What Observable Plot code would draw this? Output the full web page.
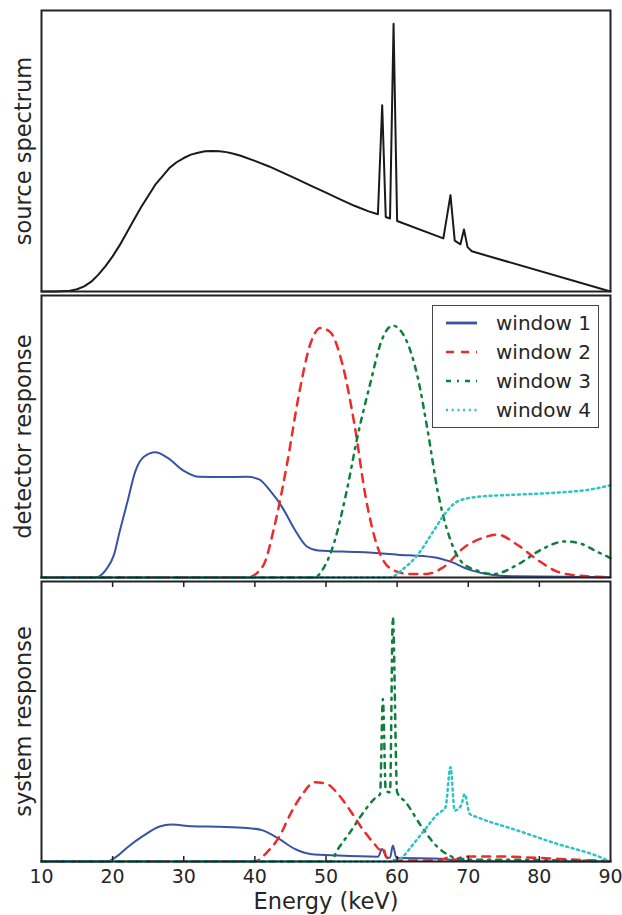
<!DOCTYPE html>
<html>
<head>
<meta charset="utf-8">
<script src="https://cdn.jsdelivr.net/npm/d3@7"></script>
<script src="https://cdn.jsdelivr.net/npm/@observablehq/plot@0.6"></script>
<style>
  html, body { margin: 0; padding: 0; background: #fff; }
  #chart { position: relative; width: 622px; height: 915px; font-family: "DejaVu Sans", sans-serif; color: #262626; }
  #chart svg { display: block; }
  #legend { position: absolute; left: 432px; top: 305px; width: 167px; height: 123px; box-sizing: border-box;
            border: 1.6px solid #444; background: #fff; }
  .lrow { position: absolute; left: 0; height: 20px; width: 100%; }
  .lrow svg { position: absolute; left: 12px; top: 0; }
  .lrow span { position: absolute; left: 63px; top: -2px; font-size: 20px; line-height: 24px; color: #262626; white-space: nowrap; }
</style>
</head>
<body>
<div id="chart"></div>
<script>
// ---------- data (arbitrary units 0..1) ----------
const xTicks = [10, 20, 30, 40, 50, 60, 70, 80, 90];
const xInnerTicks = [20, 30, 40, 50, 60, 70, 80];
const panelLabels = ["source spectrum", "detector response", "system response"];
const xLabel = "Energy (keV)";

const seriesNames = ["window 1", "window 2", "window 3", "window 4"];
const seriesColors = ["#3953a4", "#ee2a2a", "#0f7f3c", "#2cc4c4"];
const seriesDash = [null, "8,7", "5,6,2,6", "2,3.7"];

// source spectrum
const srcE = [10,12,14,15,16,17,18,19,20,21,22,23,24,25,26,27,28,29,30,31,32,33,34,35,36,37,38,40,42,44,46,48,50,52,54,56,57.3,57.9,58.4,59.0,59.5,60.0,66.5,67.5,68.1,68.9,69.4,69.9,70.5,90];
const srcV = [0,0,0.003,0.008,0.018,0.035,0.06,0.09,0.125,0.165,0.21,0.255,0.3,0.34,0.38,0.41,0.44,0.46,0.475,0.487,0.494,0.499,0.5,0.499,0.496,0.49,0.483,0.465,0.445,0.422,0.399,0.375,0.352,0.328,0.305,0.285,0.275,0.663,0.265,0.26,0.953,0.251,0.189,0.343,0.181,0.168,0.221,0.158,0.143,0];

// detector response
const det1E = [10,17.6,19.05,20.2,21.0,22.1,23.2,24.4,26.0,27.7,29.9,32.2,35.5,38.9,40.6,42.2,43.9,45.6,47.3,48.9,54.5,60.1,65.1,67.4,70.2,73.5,76.9,90];
const det1V = [0,0,0.027,0.081,0.164,0.27,0.377,0.428,0.444,0.425,0.38,0.357,0.356,0.357,0.348,0.306,0.247,0.17,0.11,0.096,0.09,0.081,0.072,0.057,0.027,0.009,0.004,0.001];
const det2E = [10,38.9,41.1,42.8,44.5,46.2,47.8,49.2,50.6,52.3,54.0,55.6,57.3,59.0,61.8,64.0,66.3,69.6,72,74.1,76.9,79.7,82.5,85.3,90];
const det2V = [0,0,0.039,0.187,0.40,0.65,0.828,0.885,0.87,0.757,0.543,0.282,0.104,0.033,0.012,0.012,0.033,0.11,0.14,0.152,0.116,0.063,0.021,0.007,0.001];
const det3E = [10,48.4,49.5,51.2,52.9,54.5,56.2,57.9,59.4,61.2,62.9,64.3,65.7,67.4,69.0,71.3,73.5,76.9,80.2,83.6,85.8,88.0,90];
const det3V = [0,0,0.027,0.128,0.306,0.508,0.686,0.846,0.893,0.846,0.709,0.52,0.306,0.14,0.057,0.024,0.012,0.045,0.098,0.128,0.12,0.093,0.069];
const det4E = [10,59.0,60.7,62.9,65.1,66.8,68.5,71.3,76.9,82.5,86.9,90];
const det4V = [0,0,0.027,0.081,0.164,0.229,0.27,0.286,0.294,0.301,0.311,0.327];

// system response
const sys1E = [10,19.3,20.4,22.1,24.4,26.6,28.3,31.1,35.0,38.9,41.1,43.4,45.6,47.8,51.7,57.3,57.9,58.5,59.0,59.4,59.9,66.3,67.4,71.3,90];
const sys1V = [0,0,0.015,0.051,0.093,0.125,0.132,0.126,0.124,0.12,0.111,0.081,0.045,0.027,0.021,0.017,0.045,0.015,0.013,0.057,0.013,0.01,0.006,0.001,0];
const sys2E = [10,40.0,41.7,43.4,45.0,46.7,48.4,50.1,51.7,53.4,55.1,56.8,57.6,58.0,58.5,59.3,60.1,65.7,67.4,68.2,69.3,74.1,79.7,85.3,90];
const sys2V = [0,0,0.033,0.087,0.17,0.241,0.283,0.277,0.241,0.182,0.117,0.063,0.042,0.051,0.015,0.006,0.004,0.004,0.015,0.006,0.018,0.018,0.013,0.006,0.001];
const sys3E = [10,50.6,51.7,53.4,55.1,56.8,57.6,58.0,58.4,59.0,59.4,60.0,61.2,63.5,65.7,67.4,68.2,71.3,76.9,82.5,90];
const sys3V = [0,0,0.045,0.105,0.17,0.224,0.241,0.58,0.253,0.247,0.872,0.247,0.212,0.122,0.051,0.021,0.012,0.006,0.006,0.004,0.001];
const sys4E = [10,59.3,60.7,62.3,64.0,65.7,66.8,67.5,68.1,69.0,69.5,70.2,71.3,76.9,82.5,88.0,90];
const sys4V = [0,0,0.015,0.063,0.117,0.17,0.194,0.337,0.182,0.2,0.241,0.17,0.158,0.111,0.063,0.021,0];

// ---------- build ----------
const zip = (E, V, s) => E.map((e, i) => ({E: e, v: V[i], s}));
const detData = [zip(det1E, det1V, 0), zip(det2E, det2V, 1), zip(det3E, det3V, 2), zip(det4E, det4V, 3)];
const sysData = [zip(sys1E, sys1V, 0), zip(sys2E, sys2V, 1), zip(sys3E, sys3V, 2), zip(sys4E, sys4V, 3)];
const srcData = zip(srcE, srcV, -1);

const W = 622, ML = 41, MR = 12;
const FONT = "DejaVu Sans, sans-serif";
const frameColor = "#222";

function seriesLines(sets, curve) {
  return sets.map((d, i) => Plot.line(d, {
    x: "E", y: "v", stroke: seriesColors[i], strokeWidth: i === 0 ? 2 : 2.5,
    strokeDasharray: seriesDash[i] || undefined, curve
  }));
}

function yLabelMark(label) {
  return Plot.text([label], {frameAnchor: "left", text: d => d, rotate: -90, dx: -18,
    fontSize: 22.5, fill: "#262626", textAnchor: "middle"});
}

function base(height, mt, mb, marks) {
  return Plot.plot({
    width: W, height, marginLeft: ML, marginRight: MR, marginTop: mt, marginBottom: mb,
    style: {fontFamily: FONT, background: "transparent", overflow: "visible", color: "#262626"},
    x: {domain: [10, 90], axis: null},
    y: {domain: [0, 1], axis: null},
    marks
  });
}

const chart = document.getElementById("chart");

// top: source spectrum
chart.appendChild(base(293, 10, 2, [
  Plot.line(srcData, {x: "E", y: "v", stroke: "#1a1a1a", strokeWidth: 2}),
  yLabelMark(panelLabels[0]),
  Plot.frame({stroke: frameColor, strokeWidth: 2})
]));

// middle: detector response
chart.appendChild(base(286, 2, 2, [
  ...seriesLines(detData, "monotone-x"),
  yLabelMark(panelLabels[1]),
  Plot.frame({stroke: frameColor, strokeWidth: 2})
]));

// bottom: system response
chart.appendChild(base(336, 2, 54, [
  ...seriesLines(sysData, "monotone-x"),
  yLabelMark(panelLabels[2]),
  Plot.axisX({anchor: "bottom", ticks: xTicks, tickSize: 0, tickPadding: 8, fontSize: 19,
    tickFormat: d => String(d), label: null, fill: "#262626"}),
  Plot.axisX({anchor: "bottom", ticks: xInnerTicks, tickSize: -5, tickFormat: () => "", label: null,
    stroke: frameColor, strokeWidth: 1.5}),
  Plot.axisX({anchor: "top", ticks: xInnerTicks, tickSize: -5, tickFormat: () => "", label: null,
    stroke: frameColor, strokeWidth: 1.5}),
  Plot.text([xLabel], {frameAnchor: "bottom", text: d => d, dy: 47, fontSize: 22.5, fill: "#262626"}),
  Plot.frame({stroke: frameColor, strokeWidth: 2})
]));

// legend (inside the middle panel, upper right)
const legend = document.createElement("div");
legend.id = "legend";
const rowCenters = [17, 46, 75, 104];
seriesNames.forEach((name, i) => {
  const row = document.createElement("div");
  row.className = "lrow";
  row.style.top = (rowCenters[i] - 10) + "px";
  const dash = seriesDash[i] ? ` stroke-dasharray="${seriesDash[i]}"` : "";
  const sw = i === 0 ? 2.8 : 2.5;
  row.innerHTML = `<svg width="34" height="20"><line x1="1" y1="10" x2="32" y2="10" stroke="${seriesColors[i]}" stroke-width="${sw}"${dash}/></svg><span>${name}</span>`;
  legend.appendChild(row);
});
chart.appendChild(legend);
</script>
</body>
</html>
